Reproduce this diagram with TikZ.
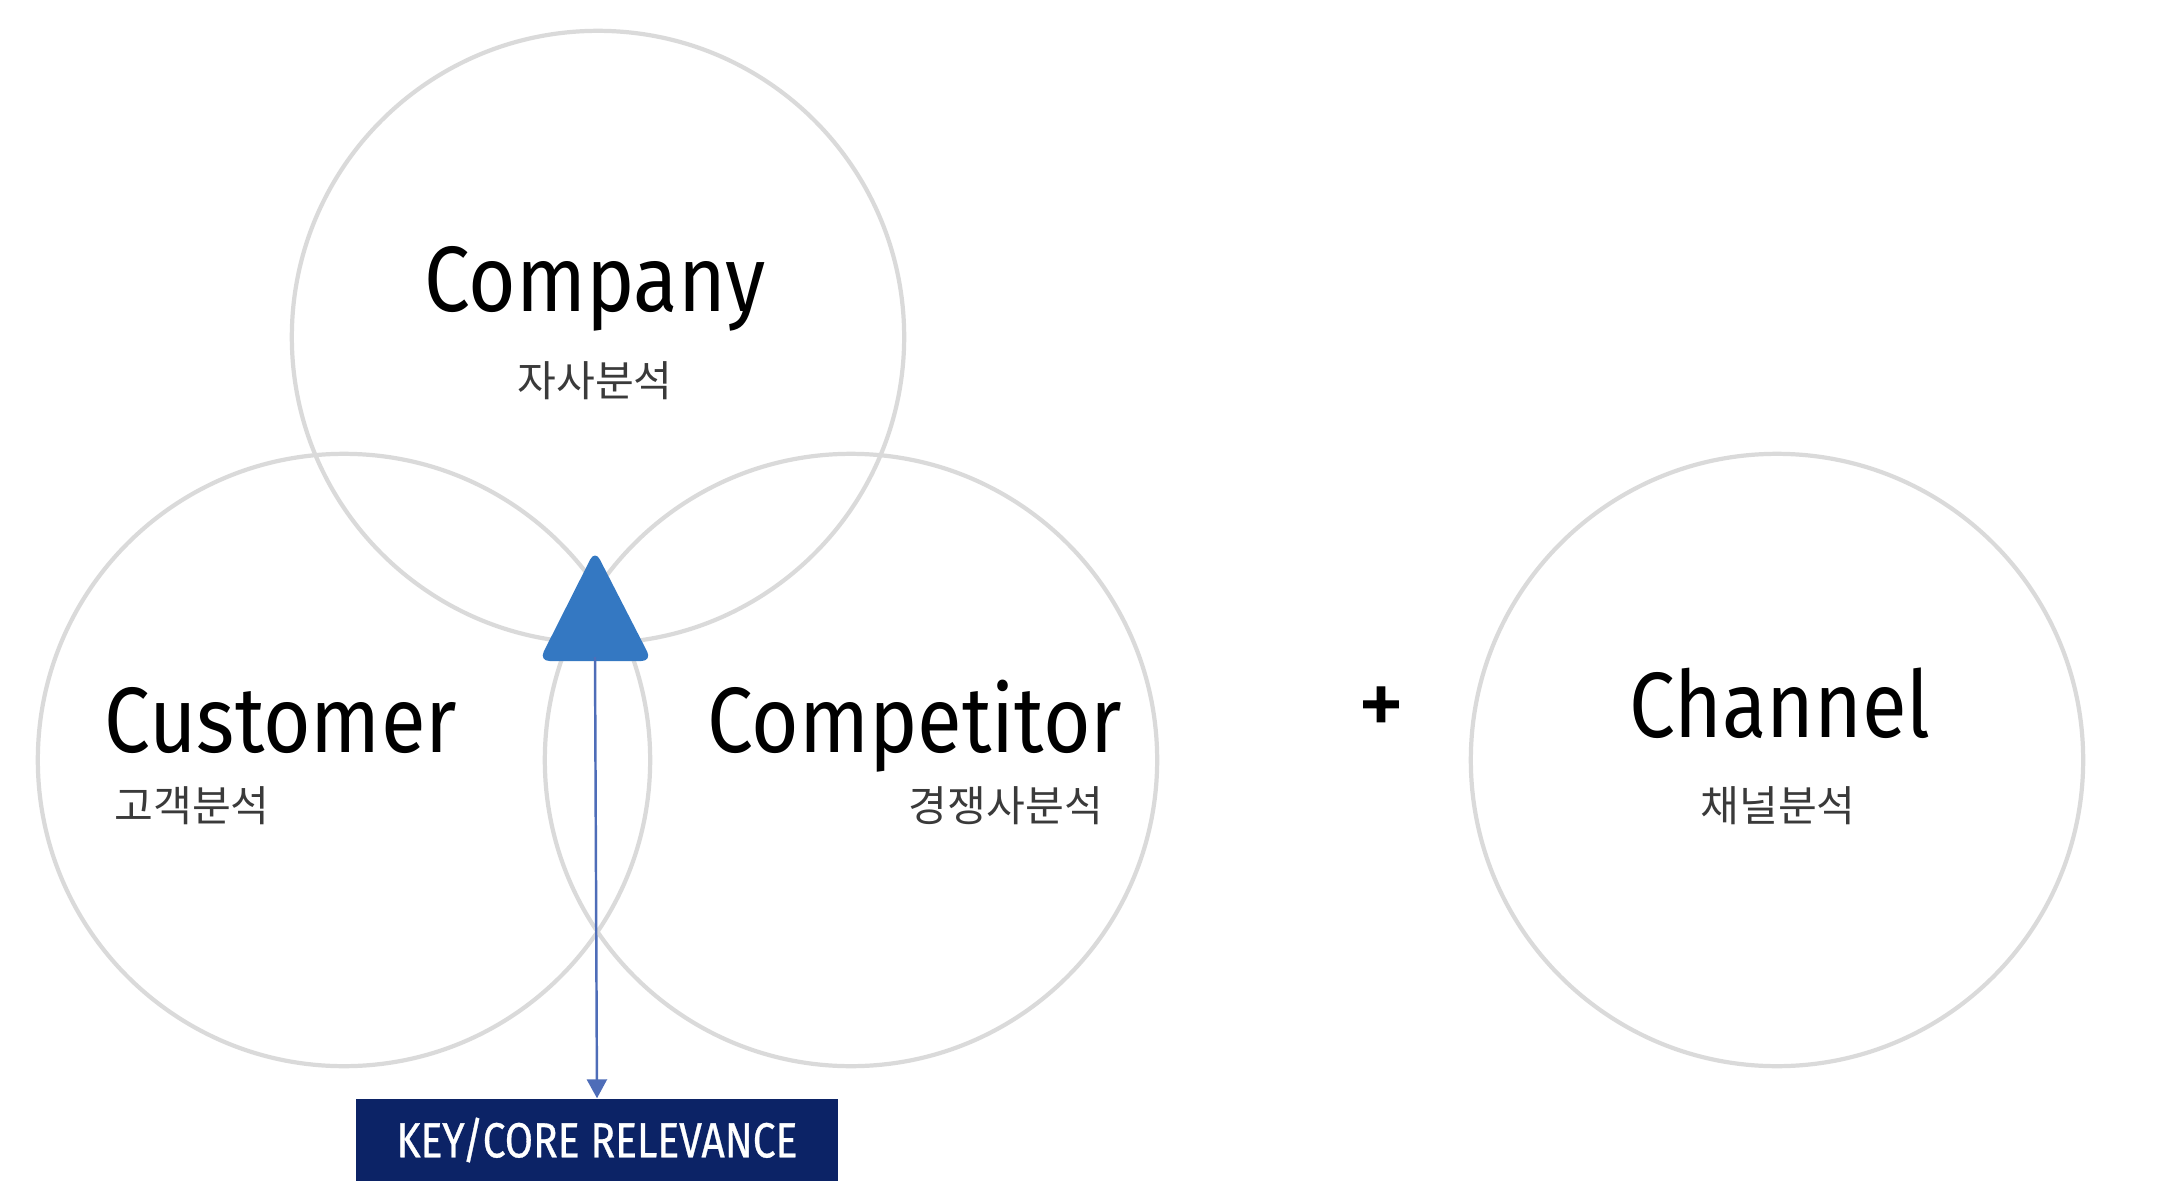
\documentclass[tikz,border=0pt]{standalone}
\usepackage{fontspec}
\setmainfont{Fira Sans}
\newfontfamily\latinfont[FakeStretch=0.88]{Fira Sans}
\newfontfamily\plusfont[FakeBold=1.2]{Fira Sans}
\newfontfamily\boxfont[FakeStretch=0.83,FakeBold=0.6]{Fira Sans}
\newfontfamily\kofont{Noto Sans CJK KR}
\usetikzlibrary{arrows.meta}

\definecolor{ringgray}{HTML}{DADADA}
\definecolor{triblue}{HTML}{3478C2}
\definecolor{lineblue}{HTML}{4E6DB8}
\definecolor{boxnavy}{HTML}{0C2366}
\definecolor{subgray}{HTML}{3A3A3A}

\begin{document}
\begin{tikzpicture}[x=0.01cm,y=0.01cm]

\tikzstyle{ring}=[circle,draw=ringgray,line width=1.2pt,minimum size=6.12cm,inner sep=0pt]
\tikzstyle{title}=[anchor=base,inner sep=0pt,font=\latinfont\fontsize{26.4}{30}\selectfont]
\tikzstyle{sub}=[anchor=base,inner sep=0pt,text=subgray,font=\kofont\fontsize{12}{14}\selectfont]
\tikzstyle{keybox}=[rectangle,fill=boxnavy,text=white,minimum width=4.82cm,minimum height=0.82cm,font=\boxfont\fontsize{14}{16}\selectfont]

\useasboundingbox (0,0) rectangle (2163,-1203);

% the four circles
\node[ring] (company)    at ( 598,-337) {} ;
\node[ring] (customer)   at ( 344,-760) {} ;
\node[ring] (competitor) at ( 851,-760) {} ;
\node[ring] (channel)    at (1777,-760) {} ;

% labels
\node[title] (tcompany)    at ( 595,-311) {Company} ;
\node[sub]   (kcompany)    at ( 595,-396) {자사분석} ;
\node[title] (tcustomer)   at ( 281,-752) {Customer} ;
\node[sub]   (kcustomer)   at ( 192,-821) {고객분석} ;
\node[title] (tcompetitor) at ( 915,-752) {Competitor} ;
\node[sub]   (kcompetitor) at (1006,-821) {경쟁사분석} ;
\node[title] (tchannel)    at (1780,-737) {Channel} ;
\node[sub]   (kchannel)    at (1778,-821) {채널분석} ;
\node[font=\plusfont\fontsize{26.4}{30}\selectfont] (plus) at (1381,-711) {+} ;

% core triangle and arrow
\fill[triblue,rounded corners=3pt] (595,-550) -- (652,-661) -- (539,-661) -- cycle;
\coordinate (tribase) at (595,-657) ;
\node[keybox] (key) at (597,-1140) {KEY/CORE RELEVANCE} ;
\draw [-{Triangle[width=5.7pt,length=5.4pt]},lineblue,line width=0.7pt] (tribase) -- (key.north);

\end{tikzpicture}
\end{document}
